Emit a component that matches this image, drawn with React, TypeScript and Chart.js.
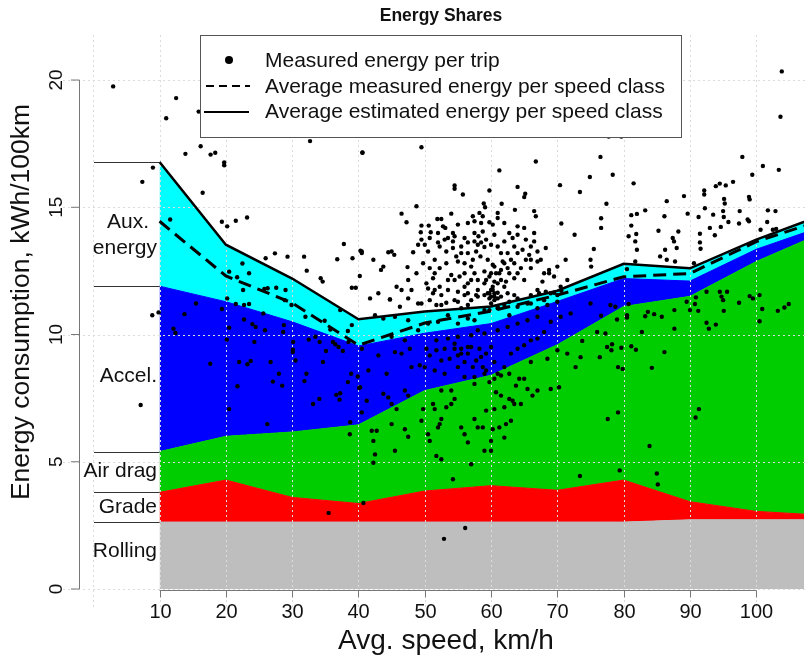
import React, { useEffect, useRef } from "react";
import { Chart, registerables } from "chart.js";

Chart.register(...registerables);

// ---------- DATA ----------
const speedClasses = [10, 20, 30, 40, 50, 60, 70, 80, 90, 100, 110];
// energy components per speed class, kWh/100km
const rolling = [2.63, 2.63, 2.63, 2.63, 2.63, 2.63, 2.63, 2.63, 2.72, 2.72, 2.72];
const grade = [1.17, 1.65, 0.97, 0.73, 1.22, 1.43, 1.25, 1.65, 0.71, 0.33, 0.18];
const airDrag = [1.6, 1.72, 2.57, 3.09, 3.95, 4.34, 5.72, 6.82, 8.07, 9.82, 11.1];
const accel = [6.5, 5.29, 4.33, 3.1, 2.25, 2.03, 1.7, 1.1, 0.6, 0.48, 0.25];
const auxEnergy = [4.88, 2.24, 1.7, 1.05, 0.85, 0.67, 0.42, 0.58, 0.5, 0.38, 0.45];
const measuredAvg = [14.45, 12.3, 11.24, 9.58, 10.45, 10.92, 11.55, 12.27, 12.4, 13.65, 14.5];

const componentNames = ["Rolling", "Grade", "Air drag", "Accel.", "Aux. energy"];
const componentColors = ["#bebebe", "#ff0000", "#00cd00", "#0000ff", "#00ffff"];

const xTicks = [10, 20, 30, 40, 50, 60, 70, 80, 90, 100];
const yTicks = [0, 5, 10, 15, 20];
const xGrid = [0, 10, 20, 30, 40, 50, 60, 70, 80, 90, 100, 110];

// measured energy per trip: [speed km/h, energy kWh/100km]
const measuredTrips: [number, number][] = [
  [3.0, 19.75], [7.4, 16.0], [7.15, 7.23], [8.9, 10.76], [9.85, 10.87],
  [12.5, 19.29], [11.0, 18.5], [15.9, 18.76], [13.9, 17.1], [16.2, 17.4], [17.7, 17.07], [18.4, 17.14],
  [19.75, 16.76], [19.75, 16.65], [9.0, 16.56], [32.7, 17.6], [40.6, 17.14], [16.5, 15.57], [11.6, 14.52],
  [19.4, 14.43], [20.2, 14.25], [21.5, 14.47], [23.2, 14.6], [37.8, 13.56], [40.3, 13.29], [40.5, 13.2],
  [36.8, 12.96], [39.1, 13.0], [26.0, 13.0], [27.4, 13.19], [29.3, 13.06], [31.8, 13.06], [22.5, 12.79],
  [23.5, 12.41], [20.5, 12.47], [32.2, 12.51], [34.3, 12.21], [34.6, 12.08], [40.2, 12.3], [39.0, 11.84],
  [39.6, 11.84], [25.8, 11.79], [26.3, 11.82], [27.6, 11.84], [29.0, 11.75], [21.7, 12.25], [22.6, 11.75],
  [20.2, 11.42],
  // 40-73 km/h, upper
  [40.6, 17.15], [49.5, 17.36], [66.75, 16.8], [61.25, 16.45], [54.5, 15.86], [54.5, 15.73], [55.75, 15.5],
  [59.75, 15.66], [64, 15.8], [65.15, 15.53], [65, 15.4], [70.4, 15.87], [48.75, 15.04], [58.9, 15.15],
  [59.1, 15.0], [61.6, 15.14], [63.6, 14.9], [66.5, 14.85], [66.75, 14.65], [70.6, 14.36], [72.6, 13.92],
  [46.5, 14.75], [47.25, 14.41], [49.5, 14.28], [50.6, 14.28], [50.9, 14.02], [49.4, 14.02], [51.9, 14.54],
  [52.5, 14.54], [52.75, 14.25], [53.1, 14.19], [54, 14.75], [55, 14.32], [54.25, 13.99], [54.5, 13.86],
  [54.25, 13.66], [56.5, 14.38], [57.25, 14.65], [57.5, 14.45], [58.25, 14.78], [58.5, 14.38], [58.75, 14.65],
  [59.75, 14.41], [60.25, 14.32], [61, 14.78], [61, 14.58], [62, 14.38], [56, 13.79], [56.5, 13.62],
  [57.5, 13.66], [58, 13.53], [58.5, 13.62], [59, 13.44], [60.5, 13.92], [60, 13.53], [61, 13.46], [62, 13.66],
  [61.5, 13.2], [62.5, 13.2], [63.25, 13.79], [64, 13.92], [65, 14.19], [65.25, 13.73], [66, 13.46],
  [66.5, 13.66], [67, 13.26], [68.25, 13.4], [65.75, 13.13], [66, 12.94], [67, 12.87], [50, 13.53],
  [50.5, 13.26], [52, 13.62], [52.25, 13.46], [53.5, 13.79], [53.25, 13.26], [49, 13.53], [48.25, 13.23],
  [47.4, 12.65], [45, 13.26], [45.4, 13.13], [44.5, 13.23], [42.25, 12.94], [40.5, 13.26], [43.75, 12.67],
  [43.4, 12.54], [54.75, 13.07], [55.5, 13.2], [55, 12.87], [56, 12.8], [51.5, 12.41], [51.25, 12.21],
  [52.25, 12.61], [53.25, 12.8], [54, 12.34], [57.5, 12.41], [58, 12.14], [59, 12.48], [59.75, 12.28],
  [60.5, 12.67], [61.25, 12.41], [61.75, 12.87], [62.5, 12.61], [63.5, 12.8], [64, 12.41], [64.5, 12.61],
  [65.25, 12.94], [66, 12.61], [65, 12.14], [63.5, 12.21], [68.75, 12.54], [68.75, 12.41], [67.75, 12.08],
  [71.25, 12.94], [54.5, 12.14], [56, 11.88], [57, 12.14], [58, 11.75], [59, 12.01], [60.25, 11.75],
  [61, 12.01], [62, 11.88], [62.5, 11.62], [50.25, 12.01], [50.5, 11.81], [51.5, 11.75], [55, 11.68],
  [56.5, 11.62], [57.75, 11.55], [59.75, 11.62], [60.5, 11.49], [45.75, 11.88], [43, 11.62], [41.75, 11.42],
  [44.75, 11.38], [48, 11.75], [52.5, 11.55], [53.5, 11.75],
  // dense cluster 47-72 km/h
  [57.5, 13.99], [58.1, 13.86], [58.75, 14.05], [59.25, 13.73], [57.75, 13.26], [58.4, 13.07], [57.25, 12.94],
  [59.5, 12.94], [60.25, 12.74], [60.75, 12.41], [61.5, 12.54], [62, 12.8], [62.75, 12.41], [63, 12.94],
  [60, 12.41], [59.25, 12.14], [60.5, 12.08], [61.5, 12.14], [62.25, 12.08], [60, 11.75], [60.5, 11.62],
  [59.75, 11.42], [61, 11.42], [60.25, 11.88], [57, 12.67], [56, 12.41], [55.25, 12.28], [56.5, 12.01],
  [53.5, 12.14], [52.25, 11.88], [51.25, 11.62], [55.5, 13.46], [56.5, 13.2], [54.25, 13.4], [53, 13.73],
  [52, 13.99], [50.75, 13.79], [49.5, 13.73], [51.5, 12.94], [50.75, 12.61], [49.75, 12.8], [48.75, 12.41],
  [47.5, 12.14], [46.5, 11.75], [64, 13.2], [64.75, 13.33], [63.5, 13.46], [62.75, 13.99], [64, 14.25],
  [66.5, 13.99], [67.5, 12.94], [68, 12.41], [69.5, 12.28], [70, 12.67], [70.5, 11.88], [71.5, 12.14],
  [69, 11.62], [67, 11.75],
  [59.5, 11.62], [60, 11.22], [60.5, 11.35], [61, 11.09], [59.75, 10.96], [61.5, 11.49], [62, 11.16],
  [62.75, 11.29], [63.5, 11.55], [56.5, 11.16], [55.5, 11.03], [54.5, 11.35], [52.5, 11.16], [50.75, 11.35],
  [49, 11.22], [47.5, 11.42], [66, 11.22], [68, 11.35], [70, 11.55],
  [58, 10.17], [59, 10.04], [57, 9.97], [55, 9.91], [53.5, 9.84], [51.75, 9.77], [61, 10.17], [62.5, 10.3],
  [64, 10.43], [65.5, 10.56], [67, 10.7], [56.5, 9.51], [55.5, 9.25], [54.5, 9.44], [58.5, 9.12],
  [59.25, 8.59], [57.5, 8.06], [56, 8.33], [55, 8.72], [53, 8.46], [51.5, 8.59], [50, 8.72],
  // 73-107 km/h, upper
  [103.85, 20.34], [103.65, 18.56], [77.75, 17.78], [79.65, 17.78], [76.5, 16.98], [74.9, 16.19],
  [78.35, 16.28], [73.4, 15.6], [97.9, 16.98], [101, 16.62], [103.4, 16.47], [99.4, 16.28], [81.5, 15.94],
  [77.4, 15.14], [76.6, 14.57], [76.6, 14.19], [81.15, 14.69], [82, 14.74], [83.25, 14.88], [81.15, 14.28],
  [81.9, 13.95], [80.75, 13.86], [81.75, 13.66], [82, 13.33], [86.5, 15.24], [89.1, 15.44], [92.15, 15.66],
  [92.15, 15.5], [93.9, 15.83], [94.5, 15.93], [95.4, 15.86], [96.5, 16.0], [86.15, 14.65], [85.25, 14.08],
  [88.25, 14.05], [87.4, 13.79], [87.6, 13.66], [88, 13.4], [89.65, 14.75], [91.3, 14.62], [92.25, 14.96],
  [93.5, 14.71], [93, 14.19], [93.75, 13.9], [91.5, 13.96], [91.5, 13.62], [91.6, 13.37], [95.15, 15.33],
  [95.25, 15.15], [95, 14.85], [95.1, 14.62], [95.8, 14.42], [94.65, 14.23], [97.5, 14.85], [97.4, 14.36],
  [98.9, 15.41], [99, 15.31], [98.7, 14.52], [98.9, 14.45], [100.65, 14.12], [101.75, 14.88], [101.65, 14.42],
  [102.9, 14.85], [102.5, 14.12], [103, 14.15], [75.5, 13.36], [75, 12.94], [75.1, 12.67], [85.5, 13.07],
  [86.5, 12.94], [87.75, 12.87], [86.25, 13.33], [81.75, 12.87], [80.5, 12.57], [90.6, 12.8],
  // 10-40 km/h, lower
  [15.5, 11.22], [13.75, 10.8], [12.1, 10.23], [12.4, 10.06], [19.4, 11.0], [20.5, 10.27], [20.15, 9.8],
  [17.65, 8.85], [20.5, 7.07], [21.75, 7.97], [21.5, 11.2], [22.75, 11.16], [23.5, 11.2], [22.75, 10.59],
  [24, 10.41], [24.5, 10.3], [24.3, 9.71], [25.9, 10.17], [25.65, 10.83], [22, 8.92], [23.25, 8.83],
  [23.75, 8.96], [26.75, 8.92], [28, 8.46], [27.1, 8.15], [28.5, 7.99], [26.25, 6.48], [28.9, 11.35],
  [29.9, 11.16], [28.75, 10.37], [28.65, 10.1], [30.15, 9.71], [30.1, 9.4], [30.1, 9.31], [30.5, 8.98],
  [32, 10.7], [32.5, 9.8], [33.15, 7.27], [31.85, 8.17], [32.15, 8.46], [34.1, 7.47], [34.65, 8.92],
  [33.5, 9.91], [34.15, 9.71], [34.9, 10.54], [35.1, 9.35], [35.75, 10.2], [36.15, 9.71], [36.5, 9.62],
  [36.65, 7.63], [37.25, 7.69], [37.15, 7.44], [38.4, 8.13], [38.9, 8.46], [38.75, 6.55], [38.7, 6.08],
  [40.5, 6.94], [40.1, 7.9], [39.9, 8.35], [37, 9.51], [37.65, 9.35], [38.5, 9.71], [38.4, 10.14], [39, 10.37],
  [37.25, 10.96], [40.75, 3.38], [35.5, 2.99],
  // 40-73 km/h, lower
  [44.75, 11.38], [46.25, 11.09], [49.5, 11.22], [51.75, 11.16], [53.25, 11.25], [55, 11.29], [56, 11.55],
  [57, 11.35], [58, 11.49], [59, 11.55], [60, 11.49], [61, 11.64], [64, 11.42], [66, 11.55], [67.25, 11.62],
  [68.25, 11.68], [69.5, 11.64], [70.6, 11.72], [42.5, 10.76], [43.75, 10.63], [45.5, 10.7], [47.5, 10.56],
  [49, 10.17], [50.5, 10.43], [52, 10.5], [53.5, 10.76], [55, 10.43], [56.5, 10.63], [57.5, 10.56], [59, 10.96],
  [61, 11.03], [62.75, 10.76], [64, 11.09], [65.5, 11.22], [67, 11.03], [68.5, 11.16], [70, 11.29],
  [40.5, 9.44], [41.5, 8.59], [43, 9.18], [44.25, 8.46], [45.5, 9.31], [46.5, 9.25], [47.75, 9.44], [48, 8.72],
  [49.25, 8.79], [50.25, 9.44], [50.75, 9.18], [51.75, 9.38], [52.5, 8.98], [53, 9.44], [53.75, 9.05],
  [54.5, 9.64], [55, 9.18], [55.5, 9.44], [56, 8.92], [56.5, 9.25], [57, 9.51], [57.25, 8.72], [57.5, 8.33],
  [57.75, 8.98], [58.25, 9.44], [58.75, 8.72], [59.25, 9.25], [60, 9.51], [60.5, 8.92], [61, 8.46], [62, 8.72],
  [63, 9.25], [64, 9.44], [65, 9.58], [66, 9.77], [67, 9.84], [68, 10.1], [69, 10.5], [70.5, 10.7], [72, 10.83],
  [45, 9.91], [47, 9.77], [40.25, 7.93], [41.25, 7.4], [43.75, 7.67], [44.5, 7.53], [45, 7.27], [45.75, 7.07],
  [47, 7.8], [47.5, 7.6], [42, 6.22], [42.25, 5.82], [42.75, 6.22], [42.5, 5.29], [42.25, 4.96], [45, 6.48],
  [45.5, 5.43], [47, 6.28], [47.5, 5.98], [49.5, 6.61], [49.75, 7.07], [50.5, 6.08], [50.75, 5.82],
  [51.25, 7.27], [51.5, 7.07], [52, 6.35], [52.25, 6.48], [52.5, 6.68], [51.75, 5.23], [52.5, 5.1],
  [53.25, 7.14], [54, 7.27], [54.5, 7.47], [52.5, 7.8], [54, 7.8], [55.5, 6.35], [56, 6.08], [56.5, 5.76],
  [57, 4.9], [57.5, 6.68], [58, 6.35], [58.75, 6.35], [59, 5.43], [59.25, 7.01], [60, 5.82], [60, 5.43],
  [60.25, 6.28], [60.5, 7.07], [60.75, 7.73], [61.25, 6.35], [61.5, 7.6], [62, 5.95], [62, 7.14], [62.25, 6.48],
  [62.75, 7.47], [63, 6.61], [63.25, 7.4], [63.5, 7.27], [63.75, 7.99], [64.25, 8.26], [64.5, 7.27], [65, 8.26],
  [65.5, 7.86], [66, 8.92], [66.25, 7.6], [67, 7.8], [68.5, 9.05], [69, 7.86], [70, 9.38], [70.25, 7.93],
  [71.5, 9.25], [72.75, 8.72], [59, 8.46], [59.75, 8.13], [60.5, 8.26], [61.5, 8.39], [62.75, 8.46],
  [54.25, 4.31], [56.1, 2.4], [52.9, 1.97],
  // 73-107 km/h, lower
  [75, 11.22], [78, 11.16], [78.75, 11.09], [80.75, 11.2], [76.6, 10.74], [79, 10.59], [76, 10.1], [77.25, 10.04],
  [73.75, 9.75], [73.5, 9.11], [76.4, 9.11], [80.5, 10.76], [80.5, 10.67], [82.75, 10.1], [83.65, 10.89],
  [83.25, 10.72], [84.6, 10.8], [85.75, 10.7], [87.65, 10.96], [87.65, 10.23], [89.5, 11.29], [90, 10.96],
  [90.75, 11.2], [90.9, 11.46], [91.25, 10.93], [92.5, 10.46], [92.85, 10.23], [93.9, 10.39], [92.5, 11.68],
  [94.5, 11.68], [94.75, 11.49], [95, 11.35], [95.1, 10.93], [95.6, 11.68], [97.4, 11.25], [99, 11.51],
  [99.5, 11.42], [100.5, 11.55], [100.9, 11.0], [100.5, 10.52], [103.25, 10.93], [104.25, 11.06], [104.9, 11.2],
  [77.5, 9.51], [78.25, 9.62], [78.15, 9.38], [79.65, 9.48], [81.15, 9.54], [81.85, 9.4], [86.15, 9.31],
  [79.15, 8.72], [79.85, 8.65], [84.25, 8.69], [79.15, 6.94], [77.6, 6.68], [83.9, 5.62], [90.85, 6.74],
  [91.35, 7.07], [73.4, 4.44], [79.4, 4.66], [85, 4.54], [85.15, 4.11],
];

// ---------- LAYOUT ----------
const W = 808;
const H = 662;
const FONT = "'Liberation Sans', Arial, Helvetica, sans-serif";
const TEXT = "#111";

function drawGrid(chart: any) {
  const { ctx } = chart;
  const xs = chart.scales.x;
  const ys = chart.scales.y;
  ctx.save();
  ctx.strokeStyle = "#dcdcdc";
  ctx.lineWidth = 1;
  ctx.setLineDash([2, 3]);
  for (const v of xGrid) {
    const px = Math.round(xs.getPixelForValue(v)) + 0.5;
    if (px > W) continue;
    ctx.beginPath();
    ctx.moveTo(px, 35);
    ctx.lineTo(px, 610);
    ctx.stroke();
  }
  for (const v of yTicks) {
    const py = Math.round(ys.getPixelForValue(v)) + 0.5;
    ctx.beginPath();
    ctx.moveTo(63, py);
    ctx.lineTo(W, py);
    ctx.stroke();
  }
  ctx.restore();
}

function drawDecor(chart: any) {
  const { ctx } = chart;
  const xs = chart.scales.x;
  const ys = chart.scales.y;
  ctx.save();
  ctx.setLineDash([]);

  // y axis
  const axX = 79.5;
  ctx.strokeStyle = "#777";
  ctx.lineWidth = 1;
  ctx.beginPath();
  ctx.moveTo(axX, ys.getPixelForValue(0));
  ctx.lineTo(axX, ys.getPixelForValue(20));
  ctx.stroke();
  ctx.fillStyle = TEXT;
  ctx.font = `19px ${FONT}`;
  ctx.textAlign = "center";
  ctx.textBaseline = "middle";
  for (const v of yTicks) {
    const py = ys.getPixelForValue(v);
    ctx.beginPath();
    ctx.moveTo(axX, py);
    ctx.lineTo(71, py);
    ctx.stroke();
    ctx.save();
    ctx.translate(56, py);
    ctx.rotate(-Math.PI / 2);
    ctx.fillText(String(v), 0, 1);
    ctx.restore();
  }

  // x axis
  const axY = 590.5;
  ctx.beginPath();
  ctx.moveTo(xs.getPixelForValue(10), axY);
  ctx.lineTo(xs.getPixelForValue(100), axY);
  ctx.stroke();
  ctx.font = `20px ${FONT}`;
  for (const v of xTicks) {
    const px = Math.round(xs.getPixelForValue(v)) + 0.5;
    ctx.beginPath();
    ctx.moveTo(px, axY);
    ctx.lineTo(px, axY + 7);
    ctx.stroke();
    ctx.fillText(String(v), px, 612);
  }

  // axis titles
  ctx.font = `28px ${FONT}`;
  ctx.fillText("Avg. speed, km/h", 446, 641);
  ctx.save();
  ctx.translate(22, 302);
  ctx.rotate(-Math.PI / 2);
  ctx.font = `26.5px ${FONT}`;
  ctx.fillText("Energy consumption, kWh/100km", 0, 0);
  ctx.restore();

  // title
  ctx.font = `bold 17.5px ${FONT}`;
  ctx.fillText("Energy Shares", 441, 16);

  // component labels on the left, with boundary lines at the first speed class
  let cum = 0;
  const comps = [rolling, grade, airDrag, accel, auxEnergy];
  ctx.strokeStyle = "#333";
  const x0 = xs.getPixelForValue(speedClasses[0]);
  for (const c of comps) {
    cum += c[0];
    const py = Math.round(ys.getPixelForValue(cum)) + 0.5;
    ctx.beginPath();
    ctx.moveTo(94, py);
    ctx.lineTo(x0, py);
    ctx.stroke();
  }
  ctx.font = `21px ${FONT}`;
  ctx.textAlign = "right";
  ctx.fillText("Rolling", 157, 551);
  ctx.fillText("Grade", 157, 507);
  ctx.fillText("Air drag", 157, 471);
  ctx.fillText("Accel.", 157, 376);
  ctx.fillText("energy", 157, 248);
  ctx.textAlign = "center";
  ctx.fillText("Aux.", 128, 222);

  // legend
  ctx.fillStyle = "#fff";
  ctx.fillRect(200, 35, 481, 102);
  ctx.strokeStyle = "#555";
  ctx.strokeRect(200.5, 35.5, 481, 102);
  ctx.fillStyle = "#000";
  ctx.beginPath();
  ctx.arc(229, 60, 4, 0, Math.PI * 2);
  ctx.fill();
  ctx.strokeStyle = "#000";
  ctx.lineWidth = 2;
  ctx.setLineDash([8, 5]);
  ctx.beginPath();
  ctx.moveTo(206, 86);
  ctx.lineTo(250, 86);
  ctx.stroke();
  ctx.setLineDash([]);
  ctx.beginPath();
  ctx.moveTo(204, 112);
  ctx.lineTo(249, 112);
  ctx.stroke();
  ctx.fillStyle = TEXT;
  ctx.font = `21px ${FONT}`;
  ctx.textAlign = "left";
  ctx.fillText("Measured energy per trip", 265, 61);
  ctx.fillText("Average measured energy per speed class", 265, 87);
  ctx.fillText("Average estimated energy per speed class", 265, 112);

  ctx.restore();
}

export default function App() {
  const ref = useRef<HTMLCanvasElement | null>(null);

  useEffect(() => {
    const canvas = ref.current;
    if (!canvas) return;
    const comps = [rolling, grade, airDrag, accel, auxEnergy];
    const estimatedTotal = speedClasses.map((_, i) => comps.reduce((s, c) => s + c[i], 0));

    const areaSets = comps.map((c, k) => ({
      type: "line" as const,
      label: componentNames[k],
      data: speedClasses.map((x, i) => ({ x, y: c[i] })),
      yAxisID: "ys",
      backgroundColor: componentColors[k],
      borderColor: componentColors[k],
      borderWidth: 1,
      pointRadius: 0,
      tension: 0,
      fill: k === 0 ? "origin" : "-1",
    }));

    const decor = {
      id: "decor",
      beforeDatasetDraw(chart: any, args: any) {
        if (args.index === 2) drawGrid(chart);
      },
      afterDraw(chart: any) {
        drawDecor(chart);
      },
    };

    const chart = new Chart(canvas, {
      type: "line",
      data: {
        datasets: [
          {
            label: "Measured energy per trip",
            data: measuredTrips.map(([x, y]) => ({ x, y })),
            showLine: false,
            pointRadius: 2.2,
            pointBorderWidth: 0,
            pointBackgroundColor: "#000",
            borderColor: "#000",
            yAxisID: "y",
          },
          {
            label: "Average estimated energy per speed class",
            data: speedClasses.map((x, i) => ({ x, y: estimatedTotal[i] })),
            borderColor: "#000",
            borderWidth: 2.5,
            pointRadius: 0,
            fill: false,
            tension: 0,
            yAxisID: "y",
          },
          {
            label: "Average measured energy per speed class",
            data: speedClasses.map((x, i) => ({ x, y: measuredAvg[i] })),
            borderColor: "#000",
            borderWidth: 3,
            borderDash: [13, 7],
            pointRadius: 0,
            fill: false,
            tension: 0,
            yAxisID: "y",
          },
          ...areaSets,
        ] as any,
      },
      options: {
        animation: false,
        responsive: false,
        layout: { padding: { left: 79, right: 0, top: 35, bottom: H - 589 } },
        scales: {
          x: { type: "linear", min: -2.15, max: 107.2, display: false },
          y: { min: 0, max: 21.77, display: false },
          ys: { min: 0, max: 21.77, display: false, stacked: true },
        },
        plugins: {
          legend: { display: false },
          tooltip: { enabled: false },
          title: { display: false },
        },
      },
      plugins: [decor],
    });
    return () => chart.destroy();
  }, []);

  return (
    <div style={{ position: "absolute", left: 0, top: 0, width: W, height: H, background: "#fff" }}>
      <canvas ref={ref} width={W} height={H} style={{ display: "block" }} />
    </div>
  );
}
